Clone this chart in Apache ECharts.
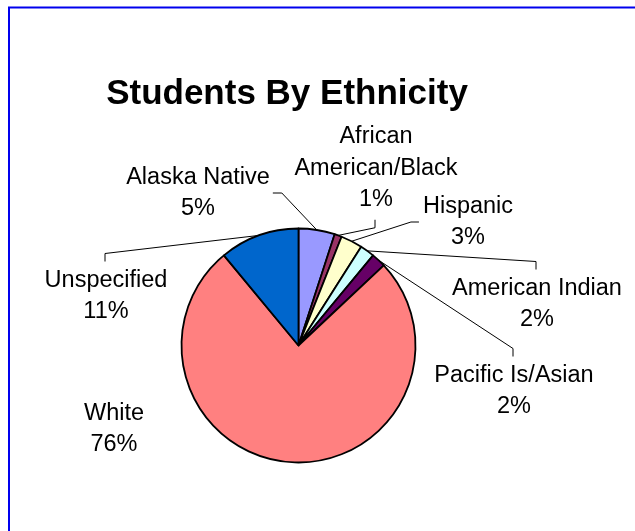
<!DOCTYPE html>
<html>
<head>
<meta charset="utf-8">
<script src="https://cdn.jsdelivr.net/npm/echarts@6/dist/echarts.min.js"></script>
<style>
  html, body { margin: 0; padding: 0; background: #ffffff; }
  #chart { width: 635px; height: 531px; }
</style>
</head>
<body>
<div id="chart"></div>
<script>
// Enrolment share by ethnicity, in percent, clockwise from twelve o'clock
const categories = ['Alaska Native', 'African American/Black', 'Hispanic', 'American Indian', 'Pacific Is/Asian', 'White', 'Unspecified'];
const percents = [5, 1, 3, 2, 2, 76, 11];
// Category text as it wraps in the slice labels
const labelNames = ['Alaska Native', 'African\nAmerican/Black', 'Hispanic', 'American Indian', 'Pacific Is/Asian', 'White', 'Unspecified'];

const sliceColors = ['#9999FF', '#993366', '#FFFFCC', '#CCFFFF', '#660066', '#FF8080', '#0066CC'];

// Where each label block sits (its centre) and which side the leader line reaches
const labelPlacement = [
  { x: 198, y: 193, side: 'right' },
  { x: 376, y: 168.5, side: 'bottom' },
  { x: 468, y: 222, side: 'left' },
  { x: 537, y: 304, side: 'top' },
  { x: 514, y: 391, side: 'top' },
  { x: 114, y: 429, side: null },
  { x: 106, y: 296, side: 'top' }
];

const FONT = '"Liberation Sans", Arial, Helvetica, sans-serif';

const chart = echarts.init(document.getElementById('chart'), null, { renderer: 'canvas' });

chart.setOption({
  animation: false,
  backgroundColor: '#ffffff',
  graphic: [
    {
      type: 'polyline',
      silent: true,
      shape: { points: [[9, 531], [9, 7.5], [635, 7.5]] },
      style: { stroke: '#0000EE', lineWidth: 2, fill: null }
    },
    {
      type: 'text',
      silent: true,
      x: 287,
      y: 94,
      style: {
        text: 'Students By Ethnicity',
        fontFamily: FONT,
        fontWeight: 'bold',
        fontSize: 35,
        fill: '#000000',
        align: 'center',
        verticalAlign: 'middle'
      }
    }
  ],
  series: [
    {
      type: 'pie',
      center: [298.5, 345.5],
      radius: 117,
      startAngle: 90,
      clockwise: true,
      avoidLabelOverlap: false,
      emphasis: { disabled: true },
      itemStyle: { borderColor: '#000000', borderWidth: 1.8 },
      label: {
        show: true,
        position: 'outside',
        fontFamily: FONT,
        fontSize: 23.5,
        lineHeight: 31.5,
        color: '#000000',
        formatter: function (p) {
          return labelNames[p.dataIndex] + '\n' + p.value + '%';
        }
      },
      labelLine: {
        show: true,
        length: 10,
        length2: 10,
        smooth: false,
        lineStyle: { color: '#000000', width: 1 }
      },
      labelLayout: function (params) {
        const p = labelPlacement[params.dataIndex];
        const w = params.labelRect.width;
        const h = params.labelRect.height;
        const out = { x: p.x, y: p.y, align: 'center', verticalAlign: 'middle' };
        const start = params.labelLinePoints && params.labelLinePoints[0];
        if (p.side && start) {
          const left = p.x - w / 2, right = p.x + w / 2;
          const top = p.y - h / 2, bottom = p.y + h / 2;
          let end, elbow;
          if (p.side === 'right') {
            end = [right + 3, p.y]; elbow = [end[0] + 9, p.y];
          } else if (p.side === 'left') {
            end = [left - 4, p.y]; elbow = [end[0] - 8, p.y];
          } else if (p.side === 'top') {
            end = [p.x - 1, top - 3]; elbow = [p.x - 1, end[1] - 8];
          } else {
            end = [p.x - 1, bottom + 4]; elbow = [p.x - 1, end[1] + 8];
          }
          out.labelLinePoints = [start, elbow, end];
        }
        return out;
      },
      data: categories.map(function (name, i) {
        return {
          name: name,
          value: percents[i],
          itemStyle: { color: sliceColors[i] },
          labelLine: { show: labelPlacement[i].side !== null }
        };
      })
    }
  ]
});
</script>
</body>
</html>
